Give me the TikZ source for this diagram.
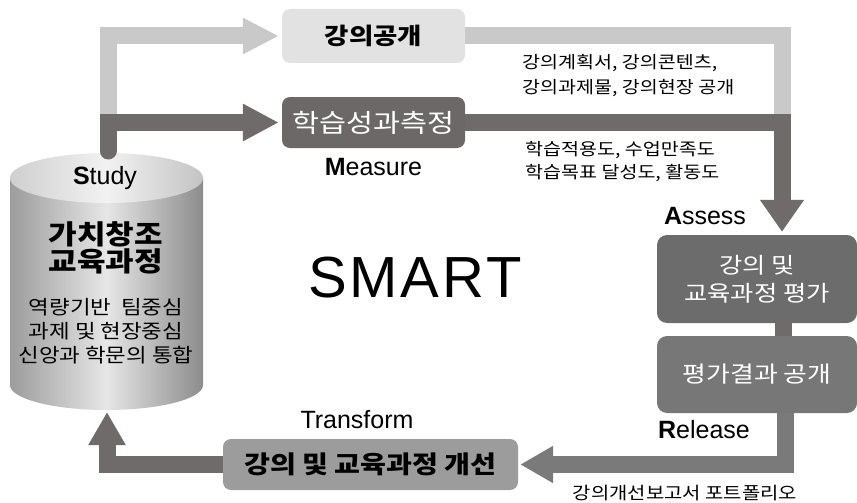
\documentclass[tikz,border=0pt]{standalone}
\usepackage{fontspec}
\setmainfont{Liberation Sans}
\newfontfamily\kr[FakeStretch=1.15]{Noto Sans CJK KR}
\newfontfamily\smartfont[LetterSpace=5]{Liberation Sans}
\usetikzlibrary{shapes.geometric, arrows.meta, positioning}

\definecolor{barlight}{HTML}{C9C9C9}
\definecolor{boxlight}{HTML}{E2E2E2}
\definecolor{bardark}{HTML}{706B6B}
\definecolor{boxdark}{HTML}{6D6868}
\definecolor{boxeval}{HTML}{6C6C6C}
\definecolor{boxpub}{HTML}{777777}
\definecolor{boxpale}{HTML}{9C9C9C}
\definecolor{barmid}{HTML}{7A7A7A}
\definecolor{cylside}{HTML}{9C9C9C}
\definecolor{cylmid}{HTML}{E6E6E6}
\definecolor{cyltop}{HTML}{F2F2F2}

\tikzstyle{lightbox} = [rectangle, rounded corners=8pt, fill=boxlight, minimum width=183pt, minimum height=54pt, text=black, font=\kr\bfseries\fontsize{23}{25}\selectfont]
\tikzstyle{darkbox} = [rectangle, rounded corners=8pt, fill=boxdark, minimum width=183pt, minimum height=51pt, text=white, font=\kr\fontsize{25.5}{27}\selectfont]
\tikzstyle{evalbox} = [rectangle, rounded corners=10pt, fill=boxeval, minimum width=200pt, minimum height=88pt, text=white, align=center, font=\kr\fontsize{22}{28}\selectfont]
\tikzstyle{pubbox} = [rectangle, rounded corners=10pt, fill=boxpub, minimum width=200pt, minimum height=77pt, text=white, font=\kr\fontsize{22.5}{26}\selectfont]
\tikzstyle{improvebox} = [rectangle, rounded corners=8pt, fill=boxpale, minimum width=295pt, minimum height=51pt, text=black, font=\kr\bfseries\fontsize{24.5}{27}\selectfont]
\tikzstyle{stagelabel} = [inner sep=0pt, font=\fontsize{25}{27}\selectfont]
\tikzstyle{note} = [inner sep=0pt, align=left, anchor=west]
\tikzstyle{lightbar} = [draw=barlight, line width=17pt, -{Triangle[width=34pt,length=36pt]}, shorten >=3pt]
\tikzstyle{darkbar} = [draw=bardark, line width=17pt, -{Triangle[width=35pt,length=36pt]}, shorten >=3pt]
\tikzstyle{midbar} = [draw=barmid, line width=17pt, -{Triangle[width=35pt,length=33pt]}, shorten >=2pt]

\begin{document}
\begin{tikzpicture}[x=1pt, y=-1pt, node distance=45pt]
\useasboundingbox (0,0) rectangle (857,503);

% Cylinder (value creation curriculum)
\shade[left color=cylside, right color=cylside!90!black, middle color=cylmid] (10,178) -- (10,385) arc[start angle=180, end angle=0, x radius=96.5, y radius=25] -- (203,178) -- cycle;
\shade[left color=cylmid!90!black, right color=cylmid!85!black, middle color=cyltop] (106.5,178) ellipse [x radius=96.5, y radius=25];
\coordinate (stem) at (108,151);
\coordinate (cylbase) at (107,410);
\coordinate (rjoin) at (782,124);

% Boxes
\node (open) [lightbox] at (373.5,36) {강의공개};
\node (measure) [darkbox] at (373.5,122.5) {학습성과측정};
\node (assess) [evalbox] at (757,279) {강의 및\\교육과정 평가};
\node (release) [pubbox, below of=assess, yshift=-50.5pt] {평가결과 공개};
\node (improve) [improvebox] at (370.5,464.5) {강의 및 교육과정 개선};

% Cylinder text
\node (studylabel) [stagelabel] at (105,178) {\textbf{S}tudy};
\node (valuetitle) [align=center, font=\kr\bfseries\fontsize{27}{25}\selectfont] at (106,248) {가치창조\\교육과정};
\node (valuenote) [align=center, font=\kr\fontsize{19.5}{24}\selectfont] at (106,331) {역량기반~~팀중심\\과제 및 현장중심\\신앙과 학문의 통합};

% Stage labels
\node (measurelabel) [stagelabel, below of=measure] {\textbf{M}easure};
\node (assesslabel) [stagelabel] at (705,216) {\textbf{A}ssess};
\node (releaselabel) [stagelabel] at (704,430) {\textbf{R}elease};
\node (transformlabel) [stagelabel, above of=improve, xshift=-13.5pt] {Transform};
\node (smart) at (415,278) {\smartfont\fontsize{58}{60}\selectfont SMART};

% Notes
\node (opennote) [note, font=\kr\fontsize{17}{25}\selectfont] at (522,75.5) {강의계획서, 강의콘텐츠,\\강의과제물, 강의현장 공개};
\node (measurenote) [note, font=\kr\fontsize{17}{23}\selectfont] at (525,161.5) {학습적용도, 수업만족도\\학습목표 달성도, 활동도};
\node (improvenote) [font=\kr\fontsize{17.3}{20}\selectfont, inner sep=0pt] at (685,493) {강의개선보고서 포트폴리오};

% Connectors
\draw [lightbar] (stem) |- (open.west);
\draw [lightbar, -, shorten >=0pt] (open.east) -| (rjoin);
\draw [darkbar, line cap=round] (stem) |- (measure.west);
\draw [darkbar, -{Triangle[width=42pt,length=32pt]}] (measure.east) -| ([xshift=25pt]assess.north);
\draw [darkbar, -, shorten >=0pt] ([xshift=26pt]assess.south) -- ([xshift=26pt]release.north);
\draw [midbar] ([xshift=28pt]release.south) |- (improve.east);
\draw [midbar, draw=bardark] (improve.west) -| (cylbase);
\end{tikzpicture}
\end{document}
